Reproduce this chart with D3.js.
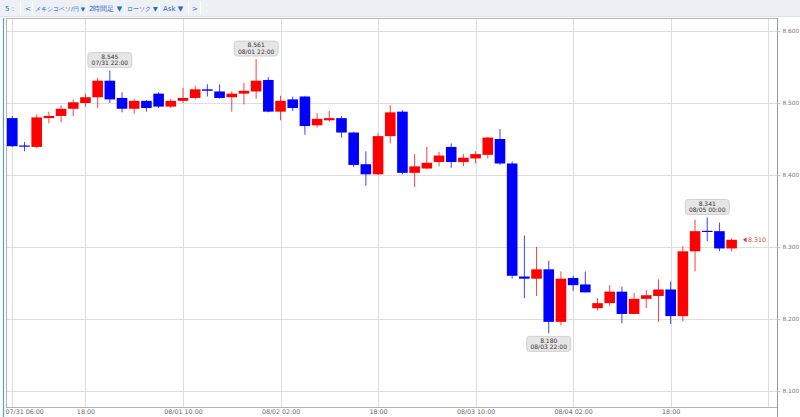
<!DOCTYPE html>
<html><head><meta charset="utf-8">
<script src="https://cdn.jsdelivr.net/npm/d3@7"></script>
<style>
body{margin:0;background:#fff;}
svg{display:block;font-family:"DejaVu Sans",sans-serif;}
</style>
</head><body>
<svg id="c" width="800" height="417"></svg>
<script>
// ---------- data ----------
const times = [
 "2023-07-31 06:00","2023-07-31 08:00","2023-07-31 10:00","2023-07-31 12:00","2023-07-31 14:00","2023-07-31 16:00","2023-07-31 18:00","2023-07-31 20:00","2023-07-31 22:00",
 "2023-08-01 00:00","2023-08-01 02:00","2023-08-01 04:00","2023-08-01 06:00","2023-08-01 08:00","2023-08-01 10:00","2023-08-01 12:00","2023-08-01 14:00","2023-08-01 16:00","2023-08-01 18:00","2023-08-01 20:00","2023-08-01 22:00",
 "2023-08-02 00:00","2023-08-02 02:00","2023-08-02 04:00","2023-08-02 06:00","2023-08-02 08:00","2023-08-02 10:00","2023-08-02 12:00","2023-08-02 14:00","2023-08-02 16:00","2023-08-02 18:00","2023-08-02 20:00","2023-08-02 22:00",
 "2023-08-03 00:00","2023-08-03 02:00","2023-08-03 04:00","2023-08-03 06:00","2023-08-03 08:00","2023-08-03 10:00","2023-08-03 12:00","2023-08-03 14:00","2023-08-03 16:00","2023-08-03 18:00","2023-08-03 20:00","2023-08-03 22:00",
 "2023-08-04 00:00","2023-08-04 02:00","2023-08-04 04:00","2023-08-04 06:00","2023-08-04 08:00","2023-08-04 10:00","2023-08-04 12:00","2023-08-04 14:00","2023-08-04 16:00","2023-08-04 18:00","2023-08-04 20:00","2023-08-04 22:00",
 "2023-08-05 00:00","2023-08-05 02:00","2023-08-05 04:00"
];
const open  = [8.479,8.441,8.439,8.479,8.482,8.492,8.500,8.508,8.531,
 8.507,8.492,8.503,8.513,8.495,8.503,8.507,8.519,8.516,8.508,8.513,8.516,
 8.532,8.488,8.505,8.509,8.469,8.476,8.479,8.459,8.415,8.401,8.454,8.488,
 8.403,8.409,8.418,8.439,8.418,8.423,8.428,8.450,8.416,8.259,8.256,8.269,
 8.196,8.257,8.248,8.215,8.222,8.238,8.207,8.228,8.232,8.241,8.204,8.294,
 8.3225,8.322,8.298];
const high  = [8.482,8.446,8.484,8.488,8.497,8.505,8.513,8.535,8.545,
 8.515,8.506,8.504,8.515,8.506,8.521,8.524,8.526,8.526,8.516,8.528,8.561,
 8.536,8.510,8.509,8.510,8.486,8.489,8.482,8.460,8.433,8.458,8.497,8.490,
 8.429,8.439,8.432,8.444,8.429,8.433,8.453,8.464,8.419,8.316,8.300,8.281,
 8.266,8.260,8.266,8.229,8.247,8.245,8.236,8.240,8.255,8.252,8.301,8.338,
 8.341,8.334,8.312];
const low   = [8.439,8.433,8.437,8.472,8.473,8.482,8.495,8.493,8.500,
 8.487,8.485,8.488,8.493,8.493,8.500,8.505,8.509,8.506,8.488,8.498,8.506,
 8.487,8.476,8.489,8.456,8.466,8.474,8.452,8.411,8.385,8.400,8.444,8.401,
 8.383,8.408,8.412,8.410,8.412,8.416,8.423,8.414,8.256,8.229,8.232,8.180,
 8.191,8.239,8.237,8.212,8.218,8.194,8.207,8.215,8.196,8.193,8.197,8.266,
 8.308,8.294,8.294];
const close = [8.440,8.440,8.480,8.482,8.492,8.501,8.508,8.531,8.505,
 8.492,8.503,8.493,8.495,8.503,8.507,8.519,8.517,8.507,8.513,8.517,8.531,
 8.488,8.503,8.493,8.468,8.478,8.479,8.459,8.414,8.401,8.454,8.487,8.403,
 8.412,8.417,8.427,8.418,8.424,8.429,8.452,8.416,8.260,8.256,8.269,8.196,
 8.256,8.247,8.237,8.222,8.238,8.207,8.228,8.233,8.241,8.204,8.294,8.322,
 8.322,8.298,8.310];
const yTicks = [8.1,8.2,8.3,8.4,8.5,8.6];
const xTickTimes  = ["2023-07-31 06:00","2023-07-31 18:00","2023-08-01 10:00","2023-08-02 02:00","2023-08-02 18:00","2023-08-03 10:00","2023-08-04 02:00","2023-08-04 18:00","2023-08-05 10:00"];
const xTickLabels = ["07/31 06:00","18:00","08/01 10:00","08/02 02:00","18:00","08/03 10:00","08/04 02:00","18:00",""];
const toolbarItems = ["5 :","<","メキシコペソ/円 ▼","2時間足 ▼","ローソク ▼","Ask ▼",">"];
const annotations = [{i:8,kind:"high"},{i:20,kind:"high"},{i:44,kind:"low"},{i:57,kind:"high"}];
const lastPrice = 8.310;

// ---------- setup ----------
const parse = d3.utcParse("%Y-%m-%d %H:%M");
const fmtDate = d3.utcFormat("%m/%d %H:%M");
const data = times.map((t,i)=>({t:parse(t),o:open[i],h:high[i],l:low[i],c:close[i]}));
const svg = d3.select("#c");
const L=6, R=777, T=18, B=407;

const x = d3.scaleUtc().domain([parse(xTickTimes[0]), parse(xTickTimes[xTickTimes.length-1])]).range([12.3, 768.2]);
const y = d3.scaleLinear().domain([8.1,8.6]).range([391,31]);

// toolbar
svg.append("rect").attr("x",0).attr("y",0).attr("width",800).attr("height",16).attr("fill","#edf0f4");
svg.append("line").attr("x1",0).attr("x2",800).attr("y1",16.5).attr("y2",16.5).attr("stroke","#dde2e8");
const tbX = [5,25,35,89,127,163,192];
const tbF = [7,7,5.6,7,6.1,7,7];
const tbSep = [20,32,86,124,159,188,200];
svg.append("g").selectAll("text").data(toolbarItems).join("text")
  .attr("x",(d,i)=>tbX[i]).attr("y",11).attr("font-size",(d,i)=>tbF[i]).attr("fill","#2b63c6")
  .text(d=>d);
svg.append("g").selectAll("line").data(tbSep).join("line")
  .attr("x1",d=>d+0.5).attr("x2",d=>d+0.5).attr("y1",1).attr("y2",15)
  .attr("stroke","#ffffff").attr("stroke-width",1);

// frame
svg.append("line").attr("x1",3.5).attr("x2",3.5).attr("y1",T).attr("y2",417).attr("stroke","#5b9be0").attr("stroke-width",1.2);
svg.append("rect").attr("x",L+0.5).attr("y",T+0.5).attr("width",R-L).attr("height",B-T)
  .attr("fill","#fff").attr("stroke","#b4b4b4");

// grid
const grid = svg.append("g");
grid.selectAll("line.h").data(yTicks).join("line").attr("class","h")
  .attr("x1",L+1).attr("x2",R).attr("y1",d=>Math.round(y(d))+0.5).attr("y2",d=>Math.round(y(d))+0.5)
  .attr("stroke","#dedede");
grid.selectAll("line.v").data(xTickTimes).join("line").attr("class","v")
  .attr("x1",d=>Math.round(x(parse(d)))+0.5).attr("x2",d=>Math.round(x(parse(d)))+0.5)
  .attr("y1",T+1).attr("y2",B).attr("stroke","#dedede");

// y axis (right)
const yAxis = svg.append("g").attr("transform",`translate(${R+0.5},0)`)
  .call(d3.axisRight(y).tickValues(yTicks).tickFormat(d3.format(".3f")).tickSize(3).tickPadding(2));
yAxis.select(".domain").attr("stroke","#9a9a9a").attr("d",`M0,${T}V${417}`);
yAxis.selectAll(".tick line").attr("stroke","#cfcfcf");
yAxis.selectAll(".tick text").attr("fill","#777").attr("font-size",5.8).attr("font-family","DejaVu Sans");

// x axis labels
const xAxis = svg.append("g").attr("transform",`translate(0,${B})`)
  .call(d3.axisBottom(x).tickValues(xTickTimes.map(parse)).tickFormat((d,i)=>xTickLabels[i]).tickSize(0).tickPadding(3));
xAxis.select(".domain").remove();
xAxis.selectAll(".tick text").attr("fill","#666").attr("font-size",6.3).attr("font-family","DejaVu Sans")
  .attr("text-anchor",(d,i)=>i===0?"start":"middle")
  .attr("dx",(d,i)=>i===0?(L-1-x(d)):0);

// candles
svg.append("clipPath").attr("id","clip").append("rect").attr("x",L+1).attr("y",T+1).attr("width",R-L-1).attr("height",B-T-1);
const cg = svg.append("g").attr("clip-path","url(#clip)");
const bw = 10.6;
const col = d => d.c >= d.o ? "#ff0000" : "#0000ff";
cg.selectAll("line.w").data(data).join("line").attr("class","w")
  .attr("x1",d=>x(d.t)).attr("x2",d=>x(d.t)).attr("y1",d=>y(d.h)).attr("y2",d=>y(d.l))
  .attr("stroke",col).attr("stroke-width",1).attr("stroke-opacity",0.75);
cg.selectAll("rect.b").data(data).join("rect").attr("class","b")
  .attr("x",d=>x(d.t)-bw/2).attr("width",bw)
  .attr("y",d=>y(Math.max(d.o,d.c)))
  .attr("height",d=>Math.max(1.2, Math.abs(y(d.o)-y(d.c))))
  .attr("fill",col);

// annotations
const ag = svg.append("g");
annotations.forEach(a=>{
  const d = data[a.i];
  const cx = x(d.t), w=44, h=15;
  const top = a.kind==="high" ? y(d.h)-3-h : y(d.l)+3;
  ag.append("rect").attr("x",cx-w/2).attr("y",top).attr("width",w).attr("height",h).attr("rx",3)
    .attr("fill","#e6e6e6").attr("stroke","#c9c9c9").attr("stroke-width",0.8);
  ag.append("text").attr("x",cx).attr("y",top+6.3).attr("text-anchor","middle")
    .attr("font-size",6).attr("fill","#333").text(d3.format(".3f")(a.kind==="high"?d.h:d.l));
  ag.append("text").attr("x",cx).attr("y",top+12.8).attr("text-anchor","middle")
    .attr("font-size",6).attr("fill","#333").text(fmtDate(d.t));
});

// last price marker
const ly = y(lastPrice);
svg.append("path").attr("d",`M743,${ly}l3.5,-2.5v5z`).attr("fill","#e03030");
svg.append("text").attr("x",748).attr("y",ly+2.2).attr("font-size",6.3).attr("fill","#e03838")
  .text(d3.format(".3f")(lastPrice));
</script>
</body></html>
